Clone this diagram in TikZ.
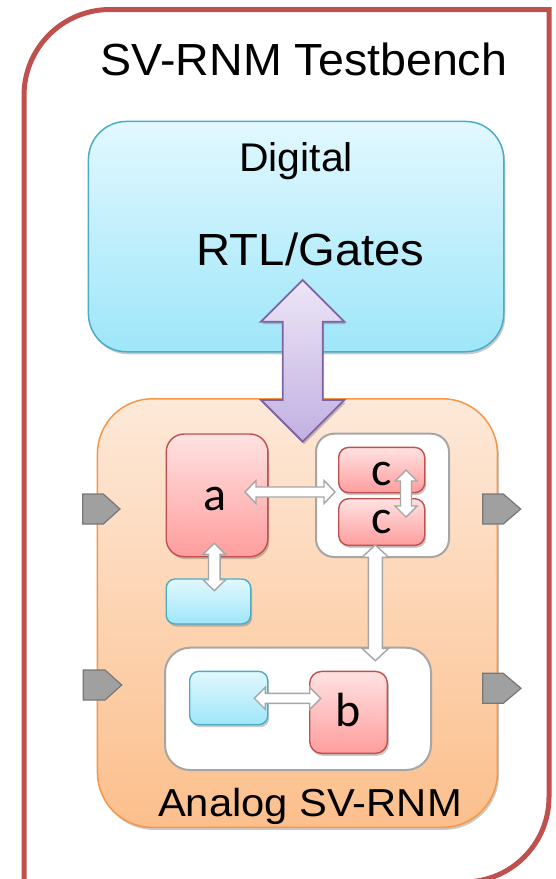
\documentclass[tikz,border=0pt]{standalone}
\usepackage{fontspec}
\setmainfont{Liberation Sans}
\newfontfamily\calfont{Carlito}
\usetikzlibrary{shadows,calc}

\definecolor{frameRed}{HTML}{C0504D}
\definecolor{digBorder}{HTML}{4BACC6}
\definecolor{digTop}{HTML}{E2F8FE}
\definecolor{digBot}{HTML}{9EE6F9}
\definecolor{anaBorder}{HTML}{F79646}
\definecolor{anaTop}{HTML}{FDE9D9}
\definecolor{anaBot}{HTML}{FCBF8C}
\definecolor{redTop}{HTML}{FFE2E2}
\definecolor{redBot}{HTML}{FF9D9D}
\definecolor{redBorder}{HTML}{C0504D}
\definecolor{arrGray}{HTML}{A6A6A6}
\definecolor{contGray}{HTML}{A6A6A6}
\definecolor{purpBorder}{HTML}{8064A2}
\definecolor{purpTop}{HTML}{ECE6F6}
\definecolor{purpBot}{HTML}{C2B0E2}
\definecolor{portFill}{HTML}{A0A0A0}
\definecolor{portBorder}{HTML}{777777}

\tikzset{
  softshadow/.style={drop shadow={shadow xshift=1.5pt, shadow yshift=-2.5pt, opacity=0.3, fill=black!70}},
  boxbase/.style={rectangle, inner sep=0pt, anchor=north west, softshadow},
  digbox/.style={boxbase, draw=digBorder, line width=1.5pt, rounded corners=38pt, top color=digTop, bottom color=digBot},
  anabox/.style={boxbase, draw=anaBorder, line width=1.5pt, rounded corners=55pt, top color=anaTop, bottom color=anaBot},
  redbox/.style={boxbase, draw=redBorder, line width=1.4pt, top color=redTop, bottom color=redBot},
  bluebox/.style={boxbase, draw=digBorder, line width=1.4pt, rounded corners=9pt, top color=digTop, bottom color=digBot},
  contbox/.style={rectangle, inner sep=0pt, anchor=north west, draw=contGray, line width=2pt, fill=white},
  blockarrow/.style={draw=arrGray, line width=1.4pt, fill=white, line join=miter},
  bigarrow/.style={draw=purpBorder, line width=1.8pt, top color=purpTop, bottom color=purpBot, line join=miter, softshadow},
  port/.style={draw=portBorder, line width=1.2pt, fill=portFill, line join=miter},
  frame/.style={draw=frameRed, line width=5pt},
  txt/.style={anchor=base, inner sep=0pt},
  lettertxt/.style={anchor=base, inner sep=0pt, font=\calfont\fontsize{48}{52}\selectfont}
}

% horizontal double block arrow from left point #2 to right point #3; head length #4, head half-width #5, shaft half-width #6
\newcommand{\hblockarrow}[6][blockarrow]{%
  \draw[#1] let \p1=(#2), \p2=(#3) in
    (\x1,\y1) -- (\x1+#4,\y1+#5) -- (\x1+#4,\y1+#6) -- (\x2-#4,\y2+#6) -- (\x2-#4,\y2+#5) --
    (\x2,\y2) -- (\x2-#4,\y2-#5) -- (\x2-#4,\y2-#6) -- (\x1+#4,\y1-#6) -- (\x1+#4,\y1-#5) -- cycle;}
% vertical double block arrow from upper point #2 to lower point #3
\newcommand{\vblockarrow}[6][blockarrow]{%
  \draw[#1] let \p1=(#2), \p2=(#3) in
    (\x1,\y1) -- (\x1+#5,\y1-#4) -- (\x1+#6,\y1-#4) -- (\x2+#6,\y2+#4) -- (\x2+#5,\y2+#4) --
    (\x2,\y2) -- (\x2-#5,\y2+#4) -- (\x2-#6,\y2+#4) -- (\x1-#6,\y1-#4) -- (\x1-#5,\y1-#4) -- cycle;}

\begin{document}
\begin{tikzpicture}[x=1pt, y=-1pt]
\useasboundingbox (0,0) rectangle (556,879);

% outer testbench frame
\draw[frame] (24,895) -- (24,95.5) .. controls (24,48) and (62.5,9.5) .. (110,9.5)
  -- (549,9.5) -- (549,797) .. controls (549,844) and (511,882) .. (464,882) -- (24,882) -- cycle;

\node[txt] (title) at (304,75) {\fontsize{45}{50}\selectfont\scalebox{1.035}[1]{SV-RNM Testbench}};

% digital block
\node[digbox, minimum width=415.3pt, minimum height=230.3pt] (dig) at (87.7,120.7) {};
\node[txt] (digtxt) at (296,171.7) {\fontsize{40}{44}\selectfont\scalebox{1.024}[1]{Digital}};
\node[txt] (rtltxt) at (310.5,265) {\fontsize{45}{50}\selectfont\scalebox{1.05}[1]{RTL/Gates}};

% analog block
\node[anabox, minimum width=400pt, minimum height=428.7pt] (ana) at (96.7,398) {};

% purple double arrow between digital and analog
\coordinate (pTop) at (302.7,280);
\coordinate (pBot) at (302.7,441.7);
\vblockarrow[bigarrow]{pTop}{pBot}{41.7pt}{41.7pt}{20pt}

% containers
\node[contbox, rounded corners=18pt, minimum width=133pt, minimum height=123.3pt] (ccont) at (315,432.7) {};
\node[contbox, rounded corners=25pt, minimum width=266pt, minimum height=122.3pt] (bcont) at (164,646.7) {};

% blocks
\node[redbox, rounded corners=18pt, minimum width=101.7pt, minimum height=122.7pt] (a) at (165.5,433.3) {};
\node[redbox, rounded corners=10pt, minimum width=86pt, minimum height=45.3pt] (c1) at (338,446.7) {};
\node[redbox, rounded corners=10pt, minimum width=86pt, minimum height=46.7pt] (c2) at (338,498) {};
\node[bluebox, minimum width=84.5pt, minimum height=45pt] (ablue) at (165.5,578.3) {};
\node[bluebox, minimum width=78pt, minimum height=53.3pt] (bblue) at (189,670.7) {};
\node[redbox, rounded corners=12pt, minimum width=77.7pt, minimum height=82pt] (b) at (309,670.7) {};

% labels
\node[lettertxt] (la) at (215,510.7) {a};
\node[lettertxt] (lc1) at (381.7,485) {c};
\node[lettertxt] (lc2) at (381.7,533.3) {c};
\node[lettertxt] (lb) at (348,726.7) {b};

% white block arrows
\coordinate (acL) at (245,492);
\coordinate (acR) at (335,492);
\hblockarrow{acL}{acR}{11pt}{11.5pt}{5pt}
\coordinate (ccT) at (406,470);
\coordinate (ccB) at (406,517);
\vblockarrow{ccT}{ccB}{11pt}{11pt}{5.5pt}
\coordinate (abT) at (214.3,543.3);
\coordinate (abB) at (214.3,590.7);
\vblockarrow{abT}{abB}{11pt}{11.3pt}{5.8pt}
\coordinate (cbT) at (375.3,545);
\coordinate (cbB) at (375.3,660.7);
\vblockarrow{cbT}{cbB}{12.3pt}{13.3pt}{7pt}
\coordinate (bbL) at (254.3,698.3);
\coordinate (bbR) at (320.7,698.3);
\hblockarrow{bbL}{bbR}{11pt}{11pt}{5pt}

\node[txt] (anatxt) at (310,816.7) {\fontsize{39}{44}\selectfont\scalebox{1.07}[1]{Analog SV-RNM}};

% ports
\draw[port] (82.7,494) -- (103.3,494) -- (120,509) -- (103.3,524) -- (82.7,524) -- cycle;
\draw[port] (482.7,494) -- (503.3,494) -- (520.7,509) -- (503.3,524) -- (482.7,524) -- cycle;
\draw[port] (83.3,670) -- (105,670) -- (121.7,685) -- (105,700) -- (83.3,700) -- cycle;
\draw[port] (482.7,673.3) -- (503.3,673.3) -- (521,688.3) -- (503.3,703.3) -- (482.7,703.3) -- cycle;
\end{tikzpicture}
\end{document}
